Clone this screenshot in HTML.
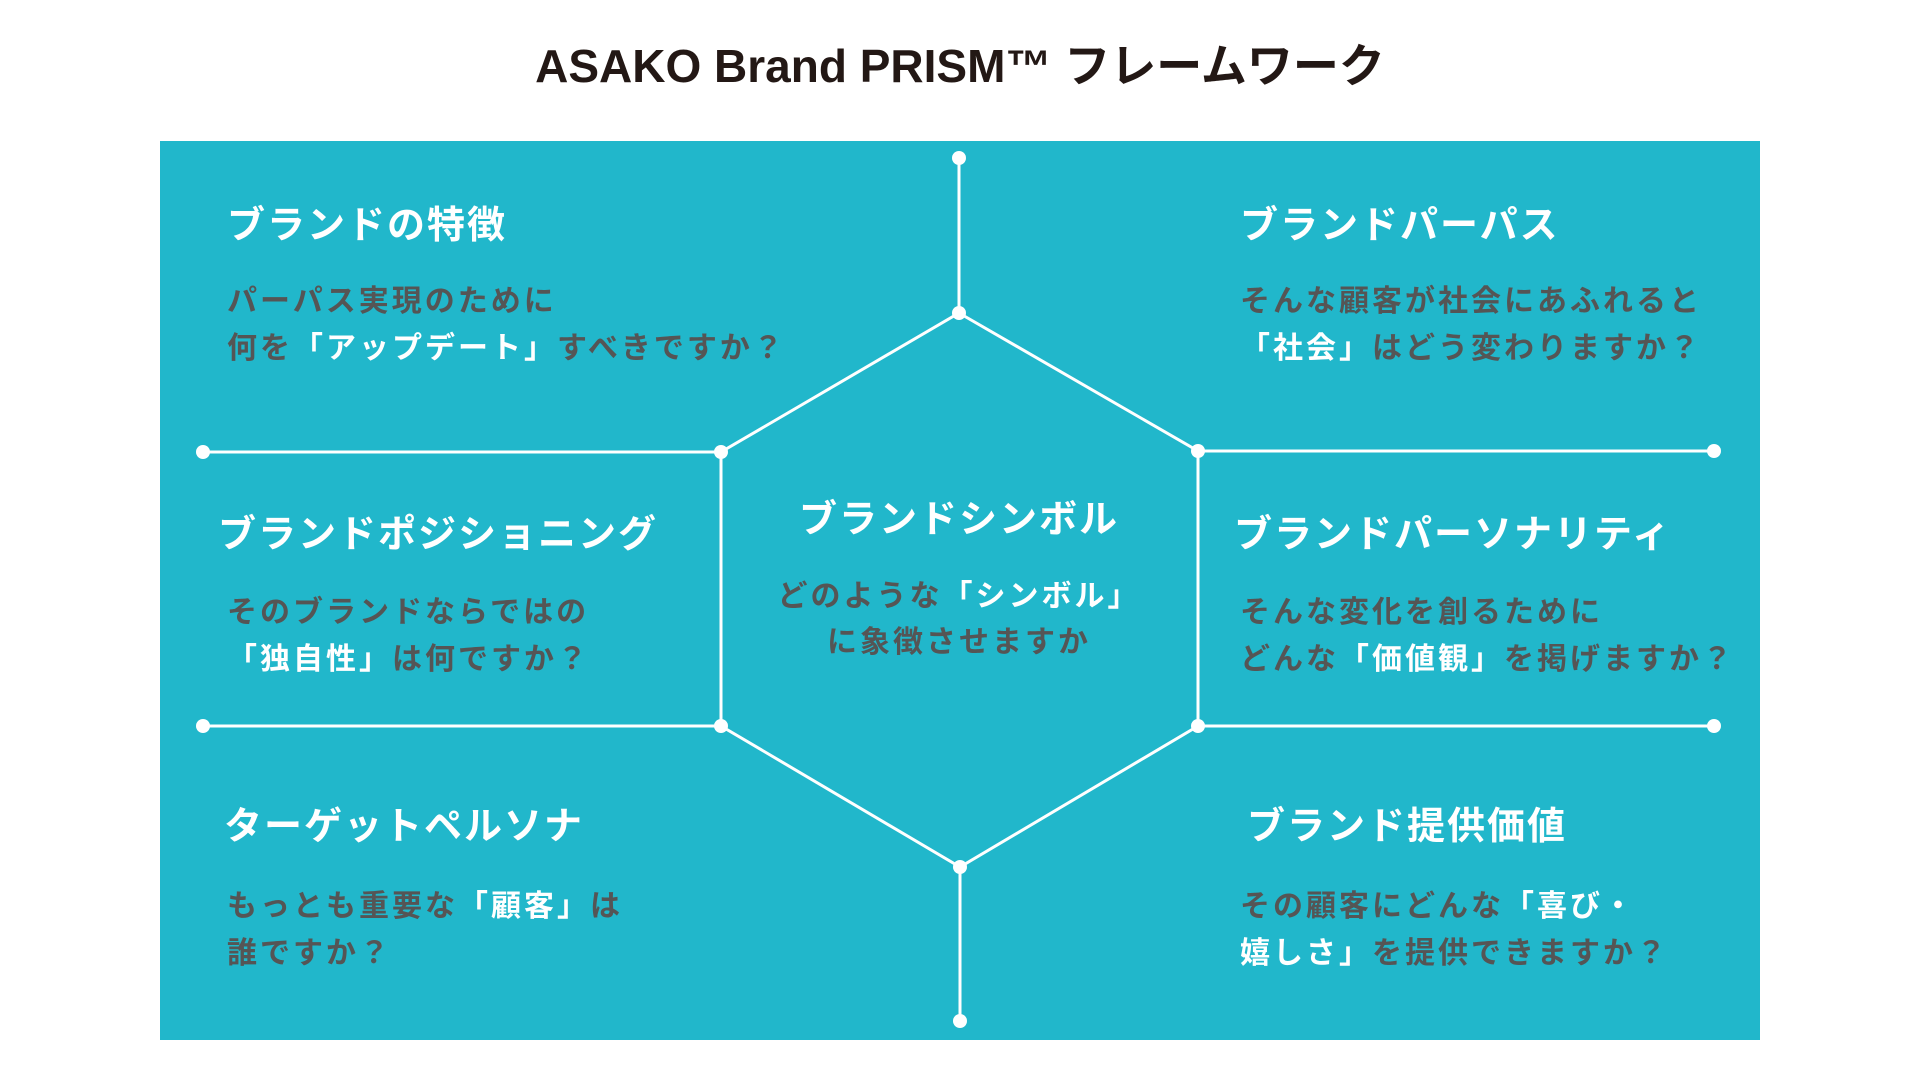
<!DOCTYPE html>
<html><head><meta charset="utf-8"><style>
html,body{margin:0;padding:0;background:#fff;width:1920px;height:1080px;overflow:hidden}
body{position:relative;font-family:"Liberation Sans","Noto Sans CJK JP",sans-serif}
.t{position:absolute;white-space:nowrap;font-weight:bold}
.h{color:#fff;font-size:38px;letter-spacing:2px;line-height:48px}
.b{color:#555;font-size:30px;letter-spacing:3px;line-height:47px}
.b span{color:#fff}
</style></head><body>
<div class="t" style="left:0;width:1920px;text-align:center;top:36px;font-size:46px;line-height:60px;color:#231815">ASAKO Brand PRISM™ フレームワーク</div>
<div style="position:absolute;left:160px;top:141px;width:1600px;height:899px;background:#21b7cb"></div>
<svg style="position:absolute;left:0;top:0" width="1920" height="1080">
<g stroke="#fff" stroke-width="3" fill="none">
<polygon points="959,313 1198,451 1198,726 960,867 721,726 721,452"/>
<line x1="959" y1="158" x2="959" y2="313"/>
<line x1="960" y1="867" x2="960" y2="1021"/>
<line x1="203" y1="452" x2="721" y2="452"/>
<line x1="203" y1="726" x2="721" y2="726"/>
<line x1="1198" y1="451" x2="1714" y2="451"/>
<line x1="1198" y1="726" x2="1714" y2="726"/>
</g>
<g fill="#fff">
<circle cx="959" cy="158" r="7"/><circle cx="960" cy="1021" r="7"/>
<circle cx="203" cy="452" r="7"/><circle cx="203" cy="726" r="7"/>
<circle cx="1714" cy="451" r="7"/><circle cx="1714" cy="726" r="7"/>
<circle cx="959" cy="313" r="7"/><circle cx="960" cy="867" r="7"/>
<circle cx="721" cy="452" r="7"/><circle cx="721" cy="726" r="7"/>
<circle cx="1198" cy="451" r="7"/><circle cx="1198" cy="726" r="7"/>
</g></svg>

<div class="t h" style="left:227px;top:202px">ブランドの特徴</div>
<div class="t b" style="left:227px;top:278px">パーパス実現のために<br>何を<span>「アップデート」</span>すべきですか？</div>

<div class="t h" style="left:1240px;top:202px">ブランドパーパス</div>
<div class="t b" style="left:1240px;top:278px">そんな顧客が社会にあふれると<br><span>「社会」</span>はどう変わりますか？</div>

<div class="t h" style="left:218px;top:511px">ブランドポジショニング</div>
<div class="t b" style="left:227px;top:589px">そのブランドならではの<br><span>「独自性」</span>は何ですか？</div>

<div class="t h" style="left:1234px;top:511px">ブランドパーソナリティ</div>
<div class="t b" style="left:1240px;top:589px">そんな変化を創るために<br>どんな<span>「価値観」</span>を掲げますか？</div>

<div class="t h" style="left:224px;top:803px">ターゲットペルソナ</div>
<div class="t b" style="left:227px;top:883px">もっとも重要な<span>「顧客」</span>は<br>誰ですか？</div>

<div class="t h" style="left:1247px;top:803px">ブランド提供価値</div>
<div class="t b" style="left:1240px;top:883px">その顧客にどんな<span>「喜び・<br>嬉しさ」</span>を提供できますか？</div>

<div class="t h" style="left:759px;width:400px;text-align:center;top:496px">ブランドシンボル</div>
<div class="t b" style="left:709px;width:500px;text-align:center;top:574px;line-height:46px">どのような<span>「シンボル」</span><br>に象徴させますか</div>
</body></html>
